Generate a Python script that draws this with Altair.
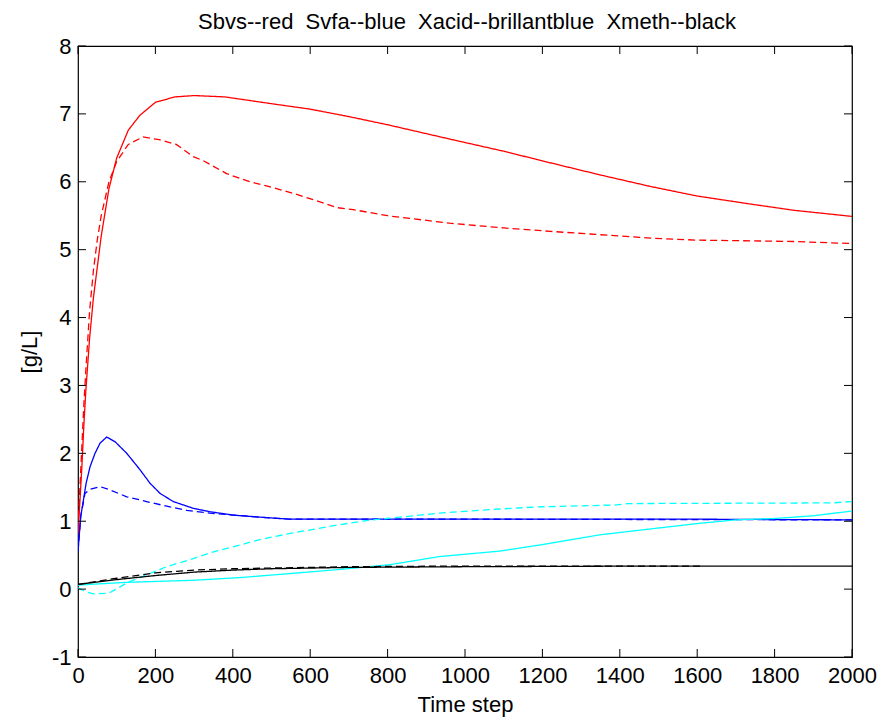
import altair as alt
import pandas as pd

# ---- data ----
t_red_solid = [0, 5, 10, 15, 20, 30, 40, 50, 60, 80, 100, 130, 160, 200, 250, 300, 380, 500, 600, 700, 800, 960, 1100, 1220, 1350, 1480, 1600, 1740, 1850, 2000]
v_red_solid = [0.8, 1.3, 1.8, 2.4, 2.9, 3.7, 4.3, 4.75, 5.2, 5.9, 6.35, 6.76, 6.98, 7.17, 7.25, 7.27, 7.25, 7.15, 7.07, 6.96, 6.84, 6.63, 6.45, 6.28, 6.1, 5.93, 5.79, 5.67, 5.58, 5.49]

t_red_dash = [0, 5, 10, 15, 20, 30, 40, 50, 60, 80, 100, 130, 168, 210, 254, 298, 324, 384, 444, 487, 556, 617, 668, 711, 800, 960, 1100, 1220, 1350, 1480, 1600, 1740, 1850, 2000]
v_red_dash = [0.9, 1.5, 2.1, 2.7, 3.2, 4.1, 4.7, 5.15, 5.5, 6.0, 6.3, 6.55, 6.66, 6.62, 6.55, 6.37, 6.31, 6.12, 6.0, 5.94, 5.83, 5.72, 5.62, 5.59, 5.5, 5.39, 5.32, 5.27, 5.22, 5.17, 5.14, 5.13, 5.12, 5.09]

t_blue_solid = [0, 7, 14, 21, 31, 44, 57, 74, 96, 126, 160, 186, 212, 246, 298, 341, 401, 470, 548, 800, 1200, 1600, 2000]
v_blue_solid = [0.55, 1.07, 1.31, 1.56, 1.8, 2.0, 2.15, 2.24, 2.17, 2.0, 1.76, 1.56, 1.41, 1.29, 1.19, 1.14, 1.09, 1.06, 1.03, 1.03, 1.03, 1.03, 1.02]

t_blue_dash = [0, 7, 18, 31, 57, 83, 126, 177, 238, 281, 341, 401, 470, 548, 1000, 2000]
v_blue_dash = [0.55, 1.07, 1.41, 1.47, 1.51, 1.46, 1.36, 1.29, 1.21, 1.16, 1.12, 1.09, 1.06, 1.03, 1.03, 1.02]

t_cyan_solid = [0, 126, 298, 419, 550, 677, 806, 935, 1090, 1194, 1349, 1500, 1607, 1700, 1800, 1900, 2000]
v_cyan_solid = [0.06, 0.1, 0.13, 0.17, 0.23, 0.29, 0.36, 0.48, 0.56, 0.65, 0.8, 0.9, 0.97, 1.02, 1.04, 1.08, 1.15]

t_cyan_dash = [0, 20, 40, 80, 126, 177, 229, 298, 350, 419, 470, 548, 677, 746, 935, 1090, 1185, 1392, 1420, 1950, 2000]
v_cyan_dash = [0.02, -0.04, -0.07, -0.06, 0.09, 0.21, 0.33, 0.45, 0.55, 0.65, 0.73, 0.82, 0.95, 1.01, 1.12, 1.18, 1.21, 1.24, 1.26, 1.27, 1.29]

t_black_solid = [0, 100, 200, 300, 400, 500, 700, 1000, 1500, 2000]
v_black_solid = [0.07, 0.14, 0.2, 0.25, 0.28, 0.3, 0.32, 0.33, 0.34, 0.34]

t_black_dash = [0, 100, 200, 300, 400, 500, 700, 1000, 1300, 1610]
v_black_dash = [0.07, 0.16, 0.24, 0.28, 0.3, 0.31, 0.33, 0.34, 0.34, 0.34]

x_ticks = [0, 200, 400, 600, 800, 1000, 1200, 1400, 1600, 1800, 2000]
y_ticks = [-1, 0, 1, 2, 3, 4, 5, 6, 7, 8]

series_names = ["Sbvs", "Sbvs meas", "Svfa", "Svfa meas", "Xacid", "Xacid meas", "Xmeth", "Xmeth meas"]
series_colors = ["#ff0000", "#ff0000", "#0000ff", "#0000ff", "#00ffff", "#00ffff", "#000000", "#000000"]

TITLE = "Sbvs--red\u00a0\u00a0Svfa--blue\u00a0\u00a0Xacid--brillantblue\u00a0\u00a0Xmeth--black"
FONT = "Liberation Sans"
FS = 22

# ---- build long table ----
parts = [
    ("Sbvs", "solid", t_red_solid, v_red_solid),
    ("Sbvs meas", "dashed", t_red_dash, v_red_dash),
    ("Svfa", "solid", t_blue_solid, v_blue_solid),
    ("Svfa meas", "dashed", t_blue_dash, v_blue_dash),
    ("Xacid", "solid", t_cyan_solid, v_cyan_solid),
    ("Xacid meas", "dashed", t_cyan_dash, v_cyan_dash),
    ("Xmeth", "solid", t_black_solid, v_black_solid),
    ("Xmeth meas", "dashed", t_black_dash, v_black_dash),
]
rows = []
for name, style, ts, vs in parts:
    for i, (t, v) in enumerate(zip(ts, vs)):
        rows.append({"series": name, "style": style, "t": t, "v": v, "i": i})
df = pd.DataFrame(rows)

W, H = 774, 611
TL = 8

xscale = alt.Scale(domain=[0, 2000], nice=False, zero=False)
yscale = alt.Scale(domain=[-1, 8], nice=False, zero=False)

lines = alt.Chart(df).mark_line(strokeWidth=1.3, clip=True).encode(
    x=alt.X("t:Q", scale=xscale,
            axis=alt.Axis(values=x_ticks, title="Time step", grid=False, ticks=False, domain=False,
                          labelExpr="'' + datum.value",
                          labelFont=FONT, labelFontSize=FS, labelColor="black", labelPadding=8,
                          titleFont=FONT, titleFontSize=FS, titleFontWeight="normal", titleColor="black",
                          titleY=37, labelFlush=False)),
    y=alt.Y("v:Q", scale=yscale,
            axis=alt.Axis(values=y_ticks, title="[g/L]", grid=False, ticks=False, domain=False,
                          labelExpr="'' + datum.value",
                          labelFont=FONT, labelFontSize=FS, labelColor="black", labelPadding=7,
                          titleFont=FONT, titleFontSize=FS, titleFontWeight="normal", titleColor="black",
                          titleX=-37, labelFlush=False)),
    color=alt.Color("series:N", scale=alt.Scale(domain=series_names, range=series_colors), legend=None),
    strokeDash=alt.StrokeDash("style:N", scale=alt.Scale(domain=["solid", "dashed"], range=[[1, 0], [7, 4]]), legend=None),
    detail="series:N",
    order="i:Q",
)

xt = pd.DataFrame({"t": x_ticks})
yt = pd.DataFrame({"v": y_ticks})

tick_bottom = alt.Chart(xt).mark_rule(color="black", strokeWidth=1).encode(
    x=alt.X("t:Q", scale=xscale), y=alt.value(H), y2=alt.value(H - TL))
tick_top = alt.Chart(xt).mark_rule(color="black", strokeWidth=1).encode(
    x=alt.X("t:Q", scale=xscale), y=alt.value(0), y2=alt.value(TL))
tick_left = alt.Chart(yt).mark_rule(color="black", strokeWidth=1).encode(
    y=alt.Y("v:Q", scale=yscale), x=alt.value(0), x2=alt.value(TL))
tick_right = alt.Chart(yt).mark_rule(color="black", strokeWidth=1).encode(
    y=alt.Y("v:Q", scale=yscale), x=alt.value(W - TL), x2=alt.value(W))

title_text = alt.Chart(pd.DataFrame({"title": [TITLE]})).mark_text(
    font=FONT, fontSize=FS, color="black", align="center", baseline="alphabetic"
).encode(text="title:N", x=alt.value(W / 2 + 2), y=alt.value(-17))

chart = alt.layer(lines, tick_bottom, tick_top, tick_left, tick_right, title_text).properties(
    width=W, height=H,
    autosize=alt.AutoSizeParams(type="none"),
    padding={"left": 78, "top": 46, "right": 25, "bottom": 64},
    background="white",
).configure_view(stroke="black", strokeWidth=1.2)

chart.save("out.html", embed_options={"renderer": "svg", "actions": False})
